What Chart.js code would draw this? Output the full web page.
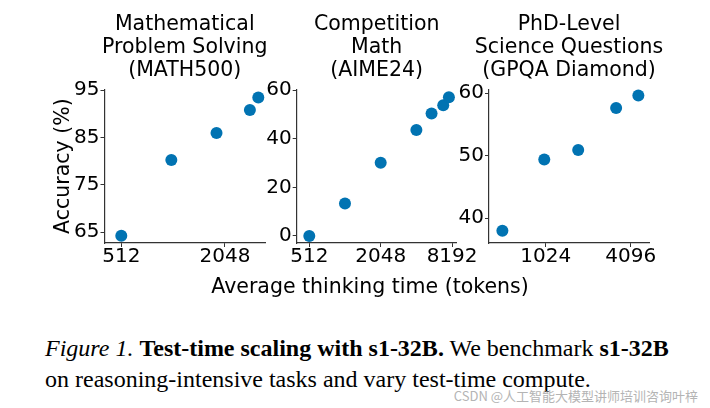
<!DOCTYPE html>
<html>
<head>
<meta charset="utf-8">
<script src="https://cdn.jsdelivr.net/npm/chart.js@4.4.1/dist/chart.umd.min.js"></script>
<style>
  html, body { margin: 0; padding: 0; background: #fff; }
  #wrap { position: relative; width: 710px; height: 408px; overflow: hidden; }
  #wrap canvas { position: absolute; left: 0; top: 0; }
  .txt { position: absolute; white-space: nowrap; color: #000; }
  #xlabel { left: 170px; width: 400px; top: 276px; text-align: center;
            font: 20.5px/20.5px "DejaVu Sans", sans-serif; }
  .cap { left: 45px; font: 24px/24px "Liberation Serif", "Times New Roman", serif; }
  #cap1 { top: 336px; }
  #cap2 { top: 367px; }
  #mark { right: 12px; top: 389px; color: #b4b4b4;
          font: 13px/13px "Noto Sans CJK SC", sans-serif; }
</style>
</head>
<body>
<div id="wrap">
  <canvas id="math" width="710" height="300"></canvas>
  <canvas id="aime" width="710" height="300"></canvas>
  <canvas id="gpqa" width="710" height="300"></canvas>
  <div class="txt" id="xlabel">Average thinking time (tokens)</div>
  <div class="txt cap" id="cap1"><i>Figure 1.</i> <b>Test-time scaling with s1-32B.</b> We benchmark <b>s1-32B</b></div>
  <div class="txt cap" id="cap2">on reasoning-intensive tasks and vary test-time compute.</div>
  <div class="txt" id="mark">CSDN @人工智能大模型讲师培训咨询叶梓</div>
</div>
<script>
// values (x = average thinking tokens, y = accuracy %)
const mathTokens = [512, 1000, 1830, 2860, 3200];
const mathAcc = [64.2, 80.2, 85.9, 90.8, 93.4];
const aimeTokens = [512, 1024, 2048, 4096, 5500, 6900, 7700];
const aimeAcc = [0, 13.4, 30.1, 43.6, 50.4, 53.7, 57.0];
const gpqaTokens = [505, 1000, 1740, 3230, 4640];
const gpqaAcc = [38.0, 49.4, 50.9, 57.6, 59.6];

const mathXTicks = [512, 2048];
const mathYTicks = [65, 75, 85, 95];
const aimeXTicks = [512, 2048, 8192];
const aimeYTicks = [0, 20, 40, 60];
const gpqaXTicks = [1024, 4096];
const gpqaYTicks = [40, 50, 60];

const mathTitle = ['Mathematical', 'Problem Solving', '(MATH500)'];
const aimeTitle = ['Competition', 'Math', '(AIME24)'];
const gpqaTitle = ['PhD-Level', 'Science Questions', '(GPQA Diamond)'];

const BLUE = '#0173b2';
const AXIS = '#333333';
const FONT = '"DejaVu Sans", sans-serif';

// the built-in title squeezes lines wider than the plot, so draw them ourselves
const panelTitle = {
  id: 'panelTitle',
  afterDraw(chart, args, o) {
    const { ctx, chartArea } = chart;
    const cx = (chartArea.left + chartArea.right) / 2;
    ctx.save();
    ctx.font = '20.5px ' + FONT;
    ctx.fillStyle = '#000';
    ctx.textAlign = 'center';
    ctx.textBaseline = 'alphabetic';
    (o.lines || []).forEach((t, i) => ctx.fillText(t, cx, 30 + i * 23));
    ctx.restore();
  }
};

function makePanel(id, opts) {
  const points = opts.x.map((v, i) => ({ x: v, y: opts.y[i] }));
  return new Chart(document.getElementById(id), {
    type: 'scatter',
    data: {
      datasets: [{
        data: points,
        backgroundColor: BLUE,
        borderWidth: 0,
        pointRadius: 6,
        pointHoverRadius: 6,
        clip: false
      }]
    },
    plugins: [panelTitle],
    options: {
      responsive: false,
      animation: false,
      events: [],
      layout: { padding: { left: opts.padLeft, right: opts.padRight, top: 89.3, bottom: 27 } },
      plugins: {
        legend: { display: false },
        tooltip: { enabled: false },
        title: { display: false },
        panelTitle: { lines: opts.title }
      },
      scales: {
        x: {
          type: 'logarithmic',
          min: opts.xMin,
          max: opts.xMax,
          bounds: 'data',
          afterBuildTicks: s => { s.ticks = opts.xTicks.map(v => ({ value: v })); },
          afterFit: s => { s.height = 30; },
          ticks: {
            callback: v => String(v),
            autoSkip: false,
            maxRotation: 0,
            color: '#000',
            padding: 0,
            font: { family: FONT, size: 20, lineHeight: 1 }
          },
          grid: { drawOnChartArea: false, drawTicks: true, tickLength: 4, color: AXIS, lineWidth: 1 },
          border: { color: AXIS, width: 1.2 }
        },
        y: {
          type: 'linear',
          min: opts.yMin,
          max: opts.yMax,
          bounds: 'data',
          afterBuildTicks: s => { s.ticks = opts.yTicks.map(v => ({ value: v })); },
          afterFit: s => { s.width = opts.yWidth; },
          ticks: {
            color: '#000',
            padding: 1,
            font: { family: FONT, size: 20 }
          },
          grid: { drawOnChartArea: false, drawTicks: true, tickLength: 4, color: AXIS, lineWidth: 1 },
          border: { color: AXIS, width: 1.2 },
          title: {
            display: !!opts.yTitle,
            text: opts.yTitle || '',
            color: '#000',
            font: { family: FONT, size: 20.5 },
            padding: { top: 5, bottom: 0 }
          }
        }
      }
    }
  });
}

makePanel('math', {
  x: mathTokens, y: mathAcc, title: mathTitle,
  xTicks: mathXTicks, yTicks: mathYTicks,
  xMin: 409, xMax: 3500, yMin: 62.68, yMax: 95.15,
  padLeft: 46.5, padRight: 445, yWidth: 58, yTitle: 'Accuracy (%)'
});

makePanel('aime', {
  x: aimeTokens, y: aimeAcc, title: aimeTitle,
  xTicks: aimeXTicks, yTicks: aimeYTicks,
  xMin: 401, xMax: 8960, yMin: -2.88, yMax: 60.3,
  padLeft: 256.7, padRight: 253.3, yWidth: 40
});

makePanel('gpqa', {
  x: gpqaTokens, y: gpqaAcc, title: gpqaTitle,
  xTicks: gpqaXTicks, yTicks: gpqaYTicks,
  xMin: 406, xMax: 5521, yMin: 36.05, yMax: 60.6,
  padLeft: 449, padRight: 61, yWidth: 40
});
</script>
</body>
</html>
